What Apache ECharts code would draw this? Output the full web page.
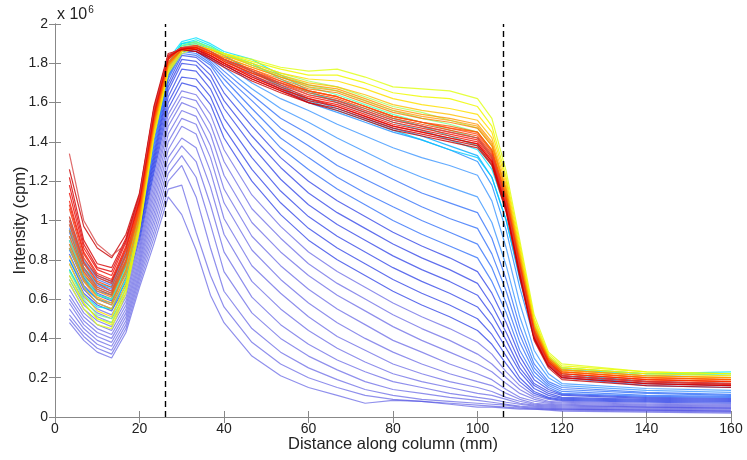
<!DOCTYPE html>
<html><head><meta charset="utf-8">
<script src="https://cdn.jsdelivr.net/npm/echarts@6/dist/echarts.min.js"></script>
<style>html,body{margin:0;padding:0;background:#fff}#c{width:747px;height:460px}</style>
</head><body><div id="c"></div>
<script>
// x positions (mm) shared by every profile
const X = [3.4,6.8,10,13.4,16.8,20,23.4,26.8,30,33.4,36.8,40,46.6,53.4,60,66.8,73.4,80,86.8,93.4,100,103.4,106.8,110,113.4,116.8,120,140,160];
const xTicks = [0,20,40,60,80,100,120,140,160];
const yTicks = [0,0.2,0.4,0.6,0.8,1,1.2,1.4,1.6,1.8,2];
const dashedX = [26, 106];

// early profiles (blue), intensity in 1e6 cpm
const blue01 = [0.48,0.39,0.33,0.30,0.43,0.66,0.88,1.12,1.03,0.85,0.62,0.48,0.31,0.21,0.15,0.11,0.07,0.085,0.08,0.065,0.05,0.05,0.045,0.04,0.04,0.035,0.03,0.025,0.02];
const blue02 = [0.50,0.41,0.35,0.32,0.45,0.68,0.91,1.16,1.18,0.94,0.72,0.56,0.38,0.27,0.20,0.15,0.11,0.09,0.08,0.07,0.06,0.055,0.05,0.045,0.04,0.04,0.035,0.03,0.025];
const blue03 = [0.52,0.43,0.37,0.34,0.47,0.70,0.94,1.20,1.28,1.12,0.86,0.64,0.45,0.33,0.25,0.19,0.14,0.11,0.09,0.08,0.07,0.065,0.06,0.05,0.045,0.04,0.04,0.035,0.03];
const blue04 = [0.55,0.45,0.39,0.36,0.49,0.72,0.97,1.24,1.33,1.22,0.98,0.74,0.53,0.40,0.31,0.24,0.18,0.14,0.12,0.10,0.085,0.075,0.065,0.055,0.05,0.045,0.04,0.035,0.03];
const blue05 = [0.58,0.47,0.41,0.38,0.51,0.74,1.00,1.28,1.38,1.30,1.08,0.84,0.61,0.47,0.37,0.29,0.23,0.18,0.15,0.12,0.10,0.09,0.075,0.065,0.055,0.05,0.045,0.04,0.035];
const blue06 = [0.60,0.49,0.43,0.40,0.53,0.76,1.03,1.32,1.42,1.37,1.17,0.93,0.69,0.55,0.44,0.35,0.28,0.22,0.18,0.15,0.12,0.11,0.09,0.07,0.06,0.055,0.05,0.045,0.04];
const blue07 = [0.62,0.51,0.45,0.42,0.55,0.78,1.06,1.36,1.48,1.44,1.25,1.01,0.77,0.63,0.51,0.41,0.34,0.27,0.22,0.18,0.15,0.13,0.10,0.08,0.065,0.06,0.055,0.05,0.045];
const blue08 = [0.65,0.53,0.47,0.44,0.57,0.80,1.09,1.40,1.52,1.49,1.32,1.09,0.85,0.70,0.58,0.48,0.40,0.33,0.27,0.22,0.18,0.16,0.12,0.09,0.07,0.065,0.06,0.05,0.045];
const blue09 = [0.68,0.55,0.49,0.46,0.59,0.82,1.12,1.44,1.56,1.53,1.38,1.16,0.92,0.77,0.65,0.55,0.47,0.39,0.33,0.27,0.22,0.19,0.14,0.10,0.08,0.07,0.065,0.055,0.05];
const blue10 = [0.70,0.57,0.51,0.48,0.61,0.84,1.15,1.48,1.60,1.57,1.44,1.23,0.99,0.84,0.72,0.62,0.54,0.46,0.39,0.33,0.27,0.23,0.17,0.12,0.09,0.075,0.07,0.06,0.055];
const blue11 = [0.72,0.59,0.53,0.50,0.63,0.86,1.18,1.51,1.63,1.61,1.49,1.30,1.06,0.91,0.78,0.68,0.60,0.52,0.45,0.39,0.32,0.27,0.20,0.14,0.10,0.08,0.075,0.065,0.06];
const blue12 = [0.75,0.61,0.55,0.52,0.65,0.88,1.21,1.54,1.66,1.64,1.54,1.36,1.13,0.97,0.84,0.74,0.66,0.58,0.51,0.45,0.38,0.32,0.23,0.16,0.11,0.09,0.08,0.07,0.065];
const blue13 = [0.78,0.63,0.57,0.54,0.67,0.90,1.24,1.57,1.70,1.68,1.59,1.42,1.20,1.03,0.90,0.80,0.72,0.64,0.57,0.51,0.44,0.37,0.27,0.18,0.12,0.095,0.085,0.075,0.07];
const blue14 = [0.80,0.65,0.58,0.55,0.69,0.92,1.26,1.60,1.73,1.72,1.63,1.47,1.26,1.09,0.96,0.86,0.78,0.70,0.63,0.57,0.50,0.42,0.31,0.20,0.13,0.10,0.09,0.08,0.075];
const blue15 = [0.83,0.67,0.60,0.57,0.71,0.94,1.28,1.63,1.77,1.76,1.67,1.52,1.32,1.15,1.02,0.92,0.84,0.76,0.69,0.63,0.56,0.47,0.35,0.23,0.145,0.11,0.095,0.085,0.08];
const blue16 = [0.86,0.69,0.62,0.59,0.73,0.95,1.30,1.66,1.80,1.79,1.71,1.57,1.38,1.21,1.08,0.98,0.90,0.82,0.75,0.69,0.62,0.52,0.39,0.25,0.16,0.12,0.10,0.09,0.085];
const blue17 = [0.88,0.71,0.63,0.60,0.75,0.96,1.32,1.68,1.82,1.81,1.74,1.61,1.43,1.27,1.14,1.04,0.96,0.88,0.81,0.75,0.68,0.57,0.43,0.28,0.17,0.13,0.11,0.095,0.09];
const blue18 = [0.90,0.72,0.65,0.62,0.77,0.97,1.34,1.70,1.84,1.83,1.77,1.65,1.48,1.32,1.20,1.10,1.02,0.94,0.87,0.81,0.74,0.63,0.48,0.31,0.19,0.14,0.115,0.10,0.095];
const blue19 = [0.92,0.74,0.66,0.63,0.78,0.98,1.36,1.72,1.85,1.84,1.79,1.69,1.53,1.37,1.26,1.16,1.08,1.00,0.93,0.87,0.81,0.69,0.53,0.34,0.21,0.15,0.12,0.105,0.10];
const blue20 = [0.94,0.75,0.67,0.64,0.79,0.99,1.38,1.73,1.86,1.85,1.80,1.72,1.57,1.42,1.32,1.22,1.14,1.07,1.00,0.94,0.88,0.76,0.58,0.38,0.23,0.16,0.13,0.11,0.105];
const blue21 = [0.96,0.76,0.68,0.65,0.80,1.00,1.40,1.74,1.86,1.86,1.81,1.74,1.61,1.47,1.38,1.28,1.21,1.14,1.07,1.01,0.96,0.83,0.64,0.42,0.25,0.17,0.14,0.12,0.11];
const blue22 = [0.98,0.78,0.70,0.67,0.82,1.01,1.42,1.75,1.87,1.86,1.82,1.76,1.64,1.52,1.44,1.35,1.28,1.21,1.14,1.09,1.04,0.91,0.70,0.46,0.27,0.18,0.15,0.125,0.115];
const blue23 = [1.00,0.79,0.71,0.68,0.83,1.02,1.44,1.76,1.87,1.87,1.83,1.78,1.67,1.57,1.50,1.42,1.35,1.28,1.22,1.17,1.12,0.99,0.77,0.51,0.30,0.20,0.16,0.135,0.125];
const blue24 = [1.02,0.80,0.72,0.69,0.84,1.03,1.46,1.77,1.88,1.87,1.84,1.80,1.70,1.62,1.56,1.49,1.43,1.37,1.32,1.28,1.23,1.10,0.86,0.58,0.34,0.22,0.17,0.145,0.135];

// later profiles (light blue -> cyan -> green -> yellow -> orange -> red)
const lblue1 = [0.85,0.70,0.64,0.62,0.78,1.02,1.45,1.78,1.88,1.89,1.86,1.82,1.74,1.67,1.60,1.55,1.50,1.45,1.41,1.36,1.30,1.18,0.95,0.66,0.40,0.26,0.20,0.16,0.15];
const lblue2 = [0.80,0.66,0.60,0.58,0.74,1.00,1.46,1.79,1.89,1.90,1.87,1.84,1.76,1.69,1.62,1.57,1.52,1.47,1.43,1.38,1.33,1.22,1.00,0.70,0.42,0.27,0.21,0.17,0.16];
const cyan3  = [0.86,0.70,0.62,0.60,0.77,1.02,1.47,1.80,1.90,1.91,1.88,1.84,1.76,1.68,1.61,1.56,1.51,1.46,1.41,1.36,1.32,1.22,1.00,0.72,0.44,0.29,0.22,0.18,0.17];
const cyan1  = [0.95,0.76,0.68,0.66,0.82,1.05,1.50,1.82,1.91,1.93,1.90,1.86,1.82,1.74,1.66,1.60,1.55,1.50,1.46,1.41,1.36,1.26,1.05,0.75,0.45,0.30,0.24,0.21,0.22];
const cyan2  = [0.75,0.62,0.56,0.55,0.70,0.98,1.47,1.80,1.90,1.92,1.89,1.85,1.80,1.72,1.65,1.61,1.57,1.52,1.48,1.43,1.38,1.28,1.07,0.77,0.46,0.30,0.24,0.22,0.23];
const green1 = [0.90,0.72,0.62,0.60,0.76,1.03,1.48,1.80,1.89,1.91,1.88,1.85,1.79,1.73,1.68,1.64,1.59,1.54,1.50,1.46,1.42,1.32,1.10,0.80,0.47,0.31,0.25,0.22,0.22];
const green3 = [0.74,0.60,0.52,0.50,0.68,0.99,1.46,1.79,1.89,1.91,1.88,1.85,1.79,1.74,1.69,1.66,1.61,1.56,1.52,1.49,1.45,1.35,1.13,0.82,0.47,0.31,0.25,0.22,0.22];
const green2 = [0.70,0.58,0.50,0.48,0.66,0.97,1.45,1.78,1.88,1.90,1.88,1.85,1.80,1.75,1.71,1.68,1.63,1.58,1.55,1.51,1.47,1.38,1.16,0.84,0.48,0.31,0.25,0.22,0.21];
const yellow1 = [0.68,0.55,0.47,0.45,0.63,0.95,1.42,1.75,1.85,1.88,1.87,1.85,1.82,1.78,1.76,1.77,1.73,1.68,1.67,1.66,1.62,1.52,1.25,0.90,0.52,0.33,0.27,0.23,0.22];
const yellow2 = [0.72,0.58,0.50,0.47,0.65,0.96,1.43,1.76,1.86,1.89,1.87,1.85,1.81,1.77,1.74,1.74,1.70,1.65,1.63,1.62,1.58,1.48,1.22,0.88,0.50,0.32,0.26,0.23,0.22];
const yellow3 = [0.78,0.62,0.54,0.51,0.68,0.98,1.44,1.77,1.86,1.89,1.87,1.84,1.80,1.75,1.72,1.71,1.67,1.62,1.59,1.57,1.54,1.45,1.20,0.86,0.49,0.31,0.25,0.22,0.21];
const orange1 = [0.82,0.66,0.58,0.55,0.72,1.00,1.46,1.78,1.87,1.89,1.87,1.84,1.79,1.74,1.70,1.68,1.64,1.59,1.56,1.54,1.51,1.42,1.18,0.84,0.47,0.30,0.24,0.21,0.20];
const orange5 = [0.86,0.69,0.60,0.57,0.74,1.02,1.48,1.79,1.87,1.89,1.86,1.83,1.78,1.73,1.68,1.66,1.61,1.56,1.53,1.51,1.48,1.39,1.15,0.81,0.46,0.30,0.24,0.21,0.20];
const orange2 = [0.88,0.70,0.61,0.58,0.75,1.02,1.48,1.79,1.87,1.89,1.86,1.83,1.78,1.73,1.69,1.67,1.62,1.57,1.54,1.52,1.49,1.40,1.16,0.82,0.46,0.30,0.24,0.21,0.20];
const orange3 = [0.92,0.73,0.64,0.61,0.78,1.04,1.50,1.80,1.87,1.88,1.86,1.82,1.77,1.72,1.67,1.65,1.60,1.55,1.52,1.50,1.47,1.38,1.14,0.80,0.45,0.29,0.23,0.20,0.19];
const orange6 = [0.95,0.74,0.65,0.62,0.79,1.05,1.50,1.80,1.87,1.88,1.85,1.82,1.76,1.70,1.66,1.63,1.58,1.53,1.50,1.47,1.45,1.36,1.12,0.79,0.44,0.29,0.23,0.20,0.19];
const orange4 = [0.98,0.76,0.66,0.63,0.80,1.06,1.51,1.81,1.87,1.88,1.85,1.82,1.76,1.71,1.66,1.63,1.58,1.53,1.50,1.48,1.45,1.36,1.12,0.78,0.44,0.29,0.23,0.20,0.19];
const red9  = [1.00,0.78,0.68,0.64,0.82,1.07,1.52,1.82,1.88,1.89,1.86,1.82,1.77,1.71,1.66,1.63,1.58,1.53,1.50,1.47,1.44,1.35,1.11,0.78,0.44,0.28,0.22,0.19,0.18];
const red1  = [1.02,0.79,0.69,0.66,0.83,1.08,1.52,1.82,1.88,1.88,1.85,1.81,1.75,1.70,1.65,1.62,1.57,1.52,1.49,1.46,1.43,1.34,1.10,0.77,0.43,0.28,0.22,0.19,0.18];
const red2  = [1.06,0.81,0.71,0.68,0.85,1.09,1.53,1.82,1.88,1.88,1.85,1.81,1.75,1.69,1.64,1.61,1.56,1.51,1.48,1.45,1.42,1.33,1.09,0.76,0.42,0.28,0.22,0.19,0.18];
const red10 = [1.08,0.83,0.72,0.69,0.86,1.10,1.54,1.83,1.88,1.87,1.84,1.80,1.73,1.67,1.62,1.58,1.53,1.48,1.45,1.42,1.39,1.30,1.07,0.74,0.41,0.27,0.21,0.18,0.165];
const red3  = [1.10,0.84,0.73,0.70,0.87,1.10,1.54,1.83,1.88,1.88,1.84,1.80,1.74,1.68,1.63,1.60,1.55,1.50,1.47,1.44,1.41,1.32,1.08,0.75,0.42,0.27,0.21,0.18,0.17];
const red4  = [1.14,0.86,0.75,0.72,0.89,1.11,1.55,1.83,1.88,1.87,1.84,1.80,1.73,1.67,1.62,1.59,1.54,1.49,1.46,1.43,1.40,1.31,1.07,0.74,0.41,0.27,0.21,0.18,0.17];
const red5  = [1.18,0.88,0.76,0.74,0.90,1.12,1.56,1.84,1.88,1.87,1.83,1.79,1.72,1.66,1.61,1.58,1.53,1.48,1.45,1.42,1.39,1.30,1.06,0.73,0.40,0.26,0.20,0.17,0.16];
const red6  = [1.22,0.90,0.78,0.76,0.91,1.13,1.57,1.84,1.87,1.86,1.83,1.79,1.72,1.66,1.60,1.57,1.52,1.47,1.44,1.41,1.38,1.29,1.05,0.72,0.40,0.26,0.20,0.17,0.16];
const red7  = [1.26,0.97,0.86,0.81,0.93,1.14,1.58,1.85,1.87,1.86,1.82,1.78,1.71,1.65,1.60,1.56,1.51,1.46,1.43,1.40,1.37,1.28,1.04,0.71,0.39,0.25,0.19,0.16,0.15];
const red8  = [1.34,1.00,0.88,0.82,0.88,1.12,1.56,1.84,1.88,1.89,1.86,1.82,1.76,1.70,1.64,1.61,1.56,1.51,1.48,1.45,1.42,1.33,1.09,0.76,0.42,0.27,0.21,0.18,0.17];

const blueSet = [blue01,blue02,blue03,blue04,blue05,blue06,blue07,blue08,blue09,blue10,blue11,blue12,blue13,blue14,blue15,blue16,blue17,blue18,blue19,blue20,blue21,blue22,blue23,blue24];
const warmSet = [lblue1,lblue2,cyan3,cyan1,cyan2,green1,green3,green2,yellow1,yellow2,yellow3,orange1,orange5,orange2,orange3,orange6,orange4,red9,red1,red2,red10,red3,red4,red5,red6,red7,red8];
const warmColors = ['rgba(30,140,255,0.8)','rgba(0,170,255,0.8)','rgba(0,200,255,0.8)','rgba(0,225,255,0.8)','rgba(0,240,230,0.8)',
  'rgba(80,255,170,0.8)','rgba(120,255,130,0.8)','rgba(160,255,90,0.8)','rgba(225,255,30,0.85)','rgba(240,250,0,0.85)','rgba(255,225,0,0.85)',
  'rgba(255,190,0,0.8)','rgba(255,160,20,0.8)','rgba(255,150,0,0.8)','rgba(255,125,0,0.8)','rgba(255,105,0,0.8)','rgba(255,90,0,0.8)',
  'rgba(255,70,20,0.8)','rgba(255,60,0,0.8)','rgba(250,45,0,0.8)','rgba(235,30,10,0.8)','rgba(245,20,0,0.8)','rgba(235,10,0,0.8)','rgba(225,0,0,0.8)','rgba(215,0,0,0.8)','rgba(200,0,0,0.8)','rgba(215,70,70,0.8)'];

function blueColor(k){
  if (k < 12) return 'rgba(75,75,225,0.62)';
  if (k < 18) return 'rgba(35,55,230,0.72)';
  if (k < 22) return 'rgba(40,105,250,0.75)';
  return 'rgba(60,150,255,0.8)';
}
function pairs(vals){ return X.map((x,i)=>[x, vals[i]]); }

const series = [];
blueSet.forEach((v,k)=>series.push({type:'line',data:pairs(v),showSymbol:false,silent:true,lineStyle:{width:1.2,color:blueColor(k)},z:2}));
warmSet.forEach((v,k)=>series.push({type:'line',data:pairs(v),showSymbol:false,silent:true,lineStyle:{width:1.2,color:warmColors[k]},z:3}));
series.push({type:'line',data:[],markLine:{symbol:'none',silent:true,animation:false,label:{show:false},
  lineStyle:{type:[6,4],color:'#000',width:1.4},data:dashedX.map(x=>({xAxis:x}))},z:5});

const chart = echarts.init(document.getElementById('c'));
const axisCommon = {axisLine:{show:true,lineStyle:{color:'#888',width:1}},axisTick:{show:true,inside:true,length:6,lineStyle:{color:'#888'}},splitLine:{show:false}};
chart.setOption({
  animation:false,
  backgroundColor:'#fff',
  grid:{left:55,right:16,top:24,bottom:43,containLabel:false,outerBoundsMode:'none'},
  xAxis:[
    Object.assign({type:'value',min:xTicks[0],max:xTicks[xTicks.length-1],interval:20,position:'bottom',
      name:'Distance along column (mm)',nameLocation:'middle',nameGap:19,nameMoveOverlap:false,
      nameTextStyle:{fontFamily:'Liberation Sans',fontSize:16.5,color:'#222'},
      axisLabel:{fontFamily:'Liberation Sans',fontSize:14,color:'#222',margin:5}},axisCommon),
    Object.assign({type:'value',min:0,max:160,interval:20,position:'top',axisLabel:{show:false}},axisCommon)
  ],
  yAxis:[
    Object.assign({type:'value',min:yTicks[0],max:yTicks[yTicks.length-1],interval:0.2,position:'left',
      name:'Intensity (cpm)',nameLocation:'middle',nameGap:26,nameMoveOverlap:false,
      nameTextStyle:{fontFamily:'Liberation Sans',fontSize:16.5,color:'#222'},
      axisLabel:{fontFamily:'Liberation Sans',fontSize:14,color:'#222',margin:7}},axisCommon),
    Object.assign({type:'value',min:0,max:2,interval:0.2,position:'right',axisLabel:{show:false}},axisCommon)
  ],
  graphic:[{type:'text',left:57,top:5,style:{text:'x 10{s|6}',fontFamily:'Liberation Sans',fontSize:16,fill:'#222',
    rich:{s:{fontSize:10,verticalAlign:'top',padding:[0,0,9,1],fill:'#222',fontFamily:'Liberation Sans'}}}}],
  series:series
});
</script></body></html>
